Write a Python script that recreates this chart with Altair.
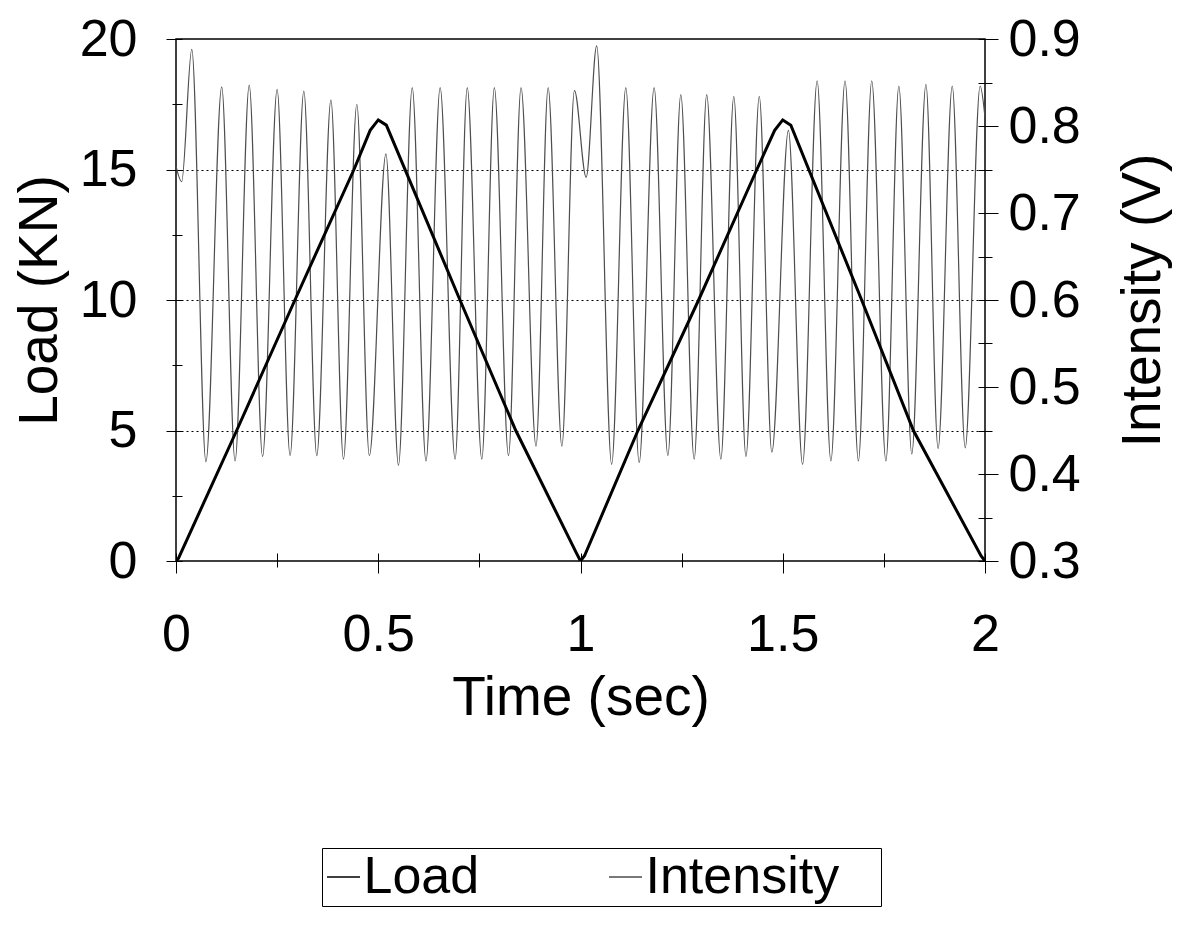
import altair as alt
import pandas as pd

# ---- data ----
load_time = [0.0, 0.006, 0.15, 0.294, 0.44, 0.48, 0.50, 0.52, 0.702, 0.84, 0.99, 1.0,
             1.01, 1.142, 1.292, 1.436, 1.48, 1.50, 1.52, 1.695, 1.823, 1.99, 2.0]
load_kn = [0.0, 0.1, 5.0, 10.0, 15.0, 16.5, 16.9, 16.7, 10.0, 5.0, 0.3, 0.0,
           0.2, 5.0, 10.0, 15.0, 16.5, 16.9, 16.7, 10.0, 5.0, 0.2, 0.0]

int_time = [0.0, 0.014, 0.039, 0.074, 0.113, 0.146, 0.181, 0.214, 0.250, 0.282, 0.316, 0.348,
            0.383, 0.414, 0.447, 0.478, 0.519, 0.550, 0.584, 0.618, 0.653, 0.690, 0.720, 0.756,
            0.787, 0.822, 0.853, 0.890, 0.920, 0.954, 0.985, 1.014, 1.040, 1.077, 1.112, 1.145,
            1.182, 1.216, 1.248, 1.281, 1.312, 1.347, 1.379, 1.409, 1.442, 1.473, 1.514, 1.549,
            1.585, 1.619, 1.654, 1.687, 1.720, 1.755, 1.787, 1.819, 1.854, 1.884, 1.919, 1.951,
            1.988, 2.0]
int_v = [0.754, 0.736, 0.888, 0.414, 0.845, 0.415, 0.847, 0.420, 0.842, 0.421, 0.840, 0.421,
         0.830, 0.417, 0.825, 0.421, 0.768, 0.410, 0.844, 0.415, 0.844, 0.417, 0.844, 0.417,
         0.844, 0.421, 0.844, 0.432, 0.844, 0.432, 0.841, 0.741, 0.892, 0.411, 0.844, 0.413,
         0.844, 0.421, 0.836, 0.417, 0.836, 0.417, 0.834, 0.420, 0.834, 0.425, 0.795, 0.411,
         0.852, 0.415, 0.852, 0.415, 0.852, 0.415, 0.846, 0.423, 0.848, 0.429, 0.846, 0.430,
         0.846, 0.81]

x_ticks = [0, 0.25, 0.5, 0.75, 1.0, 1.25, 1.5, 1.75, 2.0]
load_ticks = [0, 2.5, 5, 7.5, 10, 12.5, 15, 17.5, 20]
int_ticks = [0.30, 0.35, 0.40, 0.45, 0.50, 0.55, 0.60, 0.65, 0.70, 0.75, 0.80, 0.85, 0.90]
series = ["Load", "Intensity"]
series_colors = ["#000000", "#4d4d4d"]

load_df = pd.DataFrame({"t": load_time, "v": load_kn, "series": series[0]})
int_df = pd.DataFrame({"t": int_time, "v": int_v, "series": series[1]})

FONT = "Liberation Sans"

color = alt.Color(
    "series:N",
    scale=alt.Scale(domain=series, range=series_colors),
    legend=alt.Legend(
        title=None, orient="none", legendX=146, legendY=809, direction="horizontal",
        strokeColor="black", fillColor="white", padding=3,
        labelFont=FONT, labelFontSize=52, labelColor="black", labelLimit=500,
        labelExpr="datum.label == 'Intensity' ? datum.label + '\u2800' : datum.label",
        labelOffset={"expr": "-6"}, symbolOffset={"expr": "-7.5"},
        symbolType="stroke", symbolSize=1089, symbolStrokeWidth=1.5,
        columnPadding=126,
    ),
)

x_enc = alt.X(
    "t:Q",
    scale=alt.Scale(domain=[0, 2], nice=False, zero=False),
    axis=alt.Axis(
        values=x_ticks, format="~g", labelFlush=False,
        labelExpr="datum.value % 0.5 === 0 ? datum.label : ''",
        title="Time (sec)", grid=False, domain=False, offset=-8,
        tickColor="black", tickWidth=1,
        tickSize={"condition": {"test": "datum.value % 0.5 === 0", "value": 20}, "value": 14},
        labelPadding=36, titlePadding=11,
    ),
)

load_line = alt.Chart(load_df).mark_line(strokeWidth=3, clip=True).encode(
    x=x_enc,
    y=alt.Y(
        "v:Q",
        scale=alt.Scale(domain=[0, 20], nice=False, zero=False),
        axis=alt.Axis(
            values=load_ticks, format="~g", orient="left", labelFlush=False,
            labelExpr="datum.value % 5 === 0 ? datum.label : ''",
            title="Load (KN)", domain=False, offset=-6,
            tickColor="black", tickWidth=1,
            tickSize={"condition": {"test": "datum.value % 5 === 0", "value": 16}, "value": 10},
            labelPadding=29, titlePadding=11,
            grid=True, gridColor="black", gridDash=[2, 3], gridWidth=1,
            gridOpacity={"condition": {"test": "datum.value % 5 === 0 && datum.value > 0 && datum.value < 20", "value": 1}, "value": 0},
        ),
    ),
    color=color,
)

int_line = alt.Chart(int_df).mark_line(strokeWidth=1.2, interpolate="monotone", clip=True).encode(
    x=x_enc,
    y=alt.Y(
        "v:Q",
        scale=alt.Scale(domain=[0.3, 0.9], nice=False, zero=False),
        axis=alt.Axis(
            values=int_ticks, format=".1f", orient="right", labelFlush=False,
            labelExpr="round(datum.value * 100) % 10 === 0 ? datum.label : ''",
            title="Intensity (V)", titleAngle=270, titleBaseline="top", domain=False, offset=-7,
            tickColor="black", tickWidth=1,
            tickSize={"condition": {"test": "round(datum.value * 100) % 10 === 0", "value": 20}, "value": 14},
            labelPadding=10, titlePadding=36, grid=False,
        ),
    ),
    color=color,
)

chart = (
    alt.layer(int_line, load_line)
    .resolve_scale(y="independent")
    .properties(
        width=809, height=522,
        autosize=alt.AutoSizeParams(type="none"),
        padding={"left": 168, "top": 31, "right": 188, "bottom": 360},
    )
    .configure_view(stroke="black", strokeWidth=1.5)
    .configure_axis(
        labelFont=FONT, labelFontSize=52, labelColor="black",
        titleFont=FONT, titleFontSize=55, titleFontWeight="normal", titleColor="black",
    )
)

chart.save("out.html", embed_options={"renderer": "svg", "actions": False})
